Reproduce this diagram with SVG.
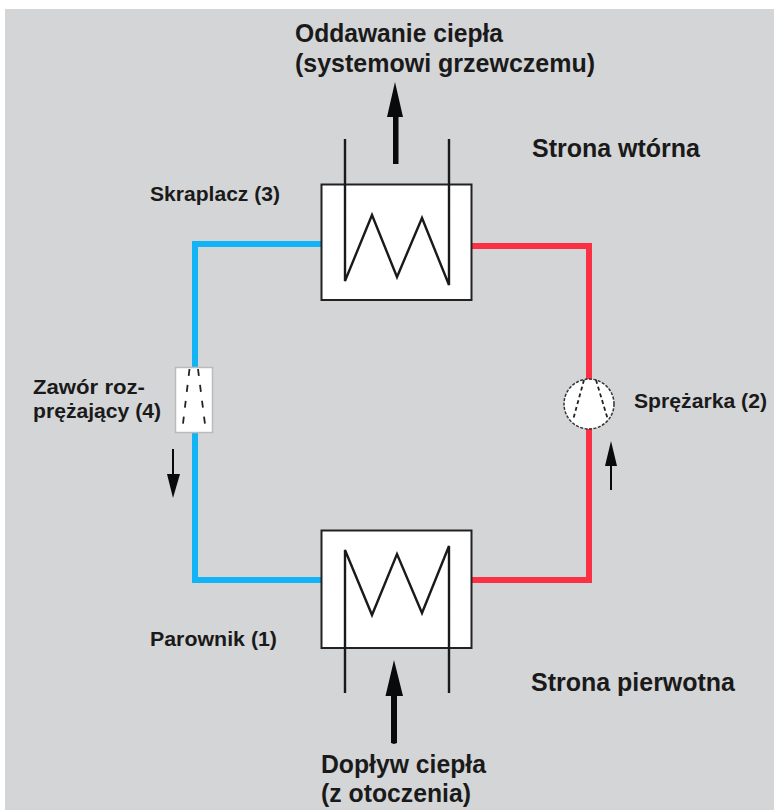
<svg xmlns="http://www.w3.org/2000/svg" width="774" height="810" viewBox="0 0 774 810">
<style>
.t{font-family:"Liberation Sans",Arial,sans-serif;font-weight:bold;fill:#1a1a1a}
.l{font-size:21px}
.h{font-size:25px}
.box{fill:#fff;stroke:#222;stroke-width:2}
.coil{fill:none;stroke:#1a1a1a;stroke-width:2.4}
.blue{fill:none;stroke:#13b4f5;stroke-width:6}
.red{fill:none;stroke:#fb3044;stroke-width:6}
.dash{fill:none;stroke:#222;stroke-width:1.8;stroke-dasharray:7 9}
.arrow{fill:#0a0a0a}
</style>
<rect width="774" height="810" fill="#fff"/>
<rect x="5" y="9" width="769" height="801" fill="#d4d5d7"/>
<g id="connectors">
<path class="blue" d="M321 244H195V580H321"/>
<path class="red" d="M471 246H589V580H471"/>
</g>
<g id="skraplacz">
<rect class="box" x="321.500" y="184.500" width="150" height="115.500"/>
<path class="coil" d="M345 139V281L372 215L397 277L422 218L449 285V139"/>
</g>
<g id="parownik">
<rect class="box" x="321.500" y="530.500" width="150" height="117.500"/>
<path class="coil" d="M345 693V550L372 615L397 554L422 613L449 546V693"/>
</g>
<g id="zawor">
<rect x="175.500" y="367.500" width="37" height="65" fill="#fff" stroke="#bbb" stroke-width="1.500"/>
<path class="dash" d="M189.500 369L182 432M198 369L206 432"/>
</g>
<g id="sprezarka">
<circle cx="589" cy="404" r="25" fill="#fff" stroke="#333" stroke-width="1.500" stroke-dasharray="3 1.500"/>
<path class="dash" style="stroke-dasharray:4 3" d="M584 380L573 420M596 380L608 420"/>
</g>
<g id="strzalki">
<path class="arrow" d="M395 82L403 117H398.500V164H393V117H387Z"/>
<path class="arrow" d="M394 660L403 696H397V743L394 744L391 743V696H385.500Z"/>
<path class="arrow" d="M173 498L167 474H172V449H174V474H180Z"/>
<path class="arrow" d="M611 441L617 466H612V490H610V466H605Z"/>
</g>
<g id="etykiety">
<text class="t h" x="295" y="41.500" textLength="208" lengthAdjust="spacingAndGlyphs">Oddawanie ciepła</text>
<text class="t h" x="295" y="71.500" textLength="300" lengthAdjust="spacingAndGlyphs">(systemowi grzewczemu)</text>
<text class="t h" x="532" y="157" textLength="168" lengthAdjust="spacingAndGlyphs">Strona wtórna</text>
<text class="t l" x="150" y="201" textLength="130" lengthAdjust="spacingAndGlyphs">Skraplacz (3)</text>
<text class="t l" x="33" y="393.500" textLength="112" lengthAdjust="spacingAndGlyphs">Zawór roz-</text>
<text class="t l" x="33" y="418" textLength="128" lengthAdjust="spacingAndGlyphs">prężający (4)</text>
<text class="t l" x="634" y="408" textLength="133" lengthAdjust="spacingAndGlyphs">Sprężarka (2)</text>
<text class="t l" x="150" y="646" textLength="127" lengthAdjust="spacingAndGlyphs">Parownik (1)</text>
<text class="t h" x="531" y="691" textLength="204" lengthAdjust="spacingAndGlyphs">Strona pierwotna</text>
<text class="t h" x="321" y="773" textLength="165" lengthAdjust="spacingAndGlyphs">Dopływ ciepła</text>
<text class="t h" x="321" y="802" textLength="150" lengthAdjust="spacingAndGlyphs">(z otoczenia)</text>
</g>
</svg>
